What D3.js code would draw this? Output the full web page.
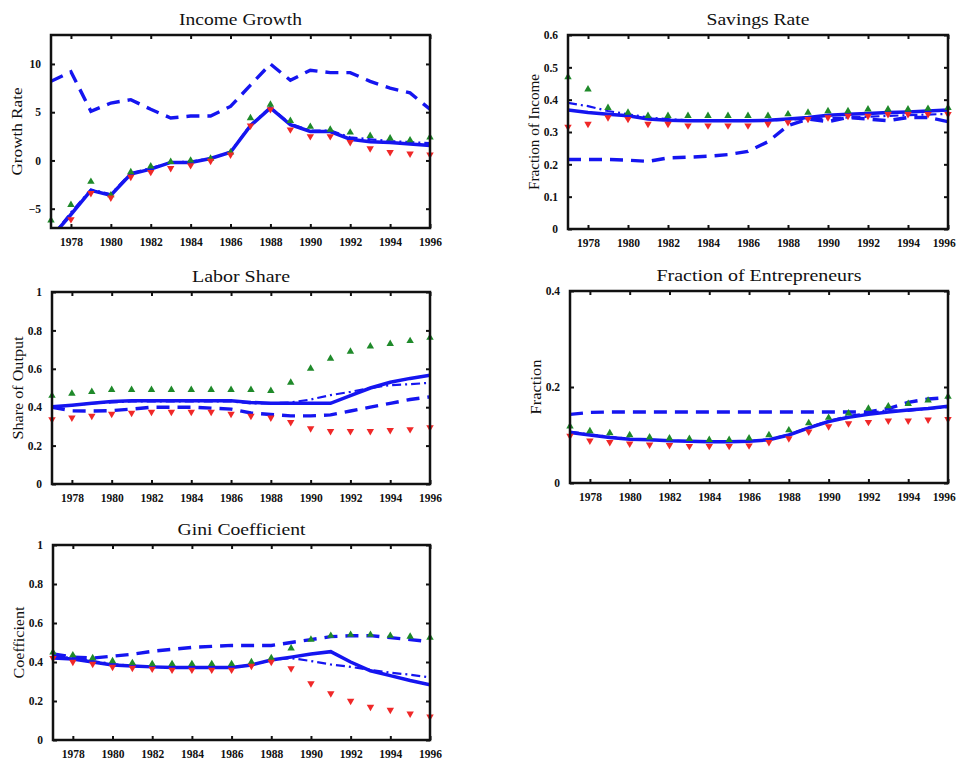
<!DOCTYPE html>
<html>
<head>
<meta charset="utf-8">
<script src="https://cdn.jsdelivr.net/npm/d3@7/dist/d3.min.js"></script>
<style>
  html, body { margin: 0; padding: 0; background: #fff; }
  svg { display: block; }
  text { font-family: "Liberation Serif", "DejaVu Serif", serif; fill: #111; }
</style>
</head>
<body>
<svg id="chart" width="957" height="761"></svg>
<script>
// Years on the horizontal axis
const years = [1977,1978,1979,1980,1981,1982,1983,1984,1985,1986,1987,1988,1989,1990,1991,1992,1993,1994,1995,1996];
const yearTicks = [1978,1980,1982,1984,1986,1988,1990,1992,1994,1996];

// Income growth (percent)
const incomeSolid   = [-8.0,-5.6,-3.1,-3.6,-1.4,-0.9,-0.2,-0.2,0.2,0.85,3.6,5.45,3.7,3.0,3.0,2.2,1.95,1.85,1.7,1.55];
const incomeDashDot = [-8.0,-5.4,-3.0,-3.5,-1.3,-0.8,-0.2,-0.1,0.2,0.9,3.7,5.5,3.8,3.1,3.1,2.4,2.2,2.0,1.9,1.8];
const incomeDashed  = [8.2,9.2,5.1,5.95,6.3,5.3,4.4,4.6,4.6,5.6,7.8,10.0,8.3,9.35,9.1,9.1,8.2,7.5,7.0,5.3];
const incomeGreen   = [-6.2,-4.6,-2.2,-3.6,-1.2,-0.6,-0.15,0.0,0.2,0.85,4.4,5.8,4.1,3.5,3.2,2.9,2.55,2.3,2.1,2.4];
const incomeRed     = [-7.6,-6.1,-3.4,-3.85,-1.7,-1.2,-0.8,-0.5,-0.05,0.6,3.6,5.3,3.2,2.5,2.5,1.9,1.25,0.85,0.7,0.6];
const incomeTicks   = [-5,0,5,10];

// Savings rate (fraction of income)
const savingsSolid   = [0.368,0.360,0.355,0.350,0.340,0.336,0.335,0.335,0.335,0.335,0.336,0.340,0.345,0.352,0.355,0.357,0.360,0.362,0.365,0.368];
const savingsDashDot = [0.390,0.380,0.365,0.355,0.345,0.340,0.336,0.335,0.335,0.336,0.336,0.338,0.340,0.342,0.345,0.347,0.350,0.352,0.354,0.356];
const savingsDashed  = [0.215,0.215,0.215,0.213,0.209,0.220,0.222,0.225,0.230,0.240,0.270,0.320,0.340,0.332,0.345,0.340,0.335,0.345,0.345,0.332];
const savingsGreen   = [0.470,0.432,0.375,0.360,0.350,0.350,0.350,0.350,0.350,0.350,0.350,0.355,0.360,0.365,0.365,0.370,0.370,0.370,0.372,0.375];
const savingsRed     = [0.316,0.325,0.345,0.340,0.325,0.325,0.320,0.320,0.320,0.320,0.325,0.330,0.340,0.345,0.350,0.350,0.355,0.355,0.355,0.355];
const savingsTicks   = [0,0.1,0.2,0.3,0.4,0.5,0.6];

// Labor share (share of output)
const laborSolid   = [0.402,0.410,0.420,0.430,0.433,0.433,0.433,0.433,0.433,0.433,0.425,0.420,0.420,0.420,0.420,0.460,0.500,0.530,0.550,0.566];
const laborDashDot = [0.400,0.410,0.420,0.425,0.430,0.430,0.430,0.430,0.430,0.430,0.420,0.420,0.425,0.440,0.463,0.480,0.500,0.515,0.520,0.527];
const laborDashed  = [0.400,0.381,0.380,0.382,0.390,0.400,0.400,0.400,0.395,0.390,0.370,0.362,0.355,0.355,0.360,0.380,0.400,0.420,0.440,0.454];
const laborGreen   = [0.460,0.471,0.480,0.490,0.490,0.490,0.490,0.490,0.490,0.490,0.490,0.485,0.528,0.601,0.653,0.690,0.717,0.730,0.745,0.762];
const laborRed     = [0.336,0.345,0.355,0.365,0.370,0.375,0.375,0.375,0.375,0.365,0.355,0.345,0.322,0.289,0.275,0.275,0.275,0.280,0.285,0.295];
const laborTicks   = [0,0.2,0.4,0.6,0.8,1];

// Fraction of entrepreneurs
const entrepSolid   = [0.105,0.100,0.095,0.091,0.090,0.088,0.087,0.086,0.086,0.087,0.090,0.100,0.115,0.128,0.137,0.143,0.148,0.152,0.155,0.160];
const entrepDashDot = [0.107,0.101,0.096,0.092,0.090,0.088,0.087,0.086,0.086,0.087,0.091,0.101,0.116,0.129,0.140,0.145,0.152,0.150,0.155,0.158];
const entrepDashed  = [0.143,0.147,0.148,0.148,0.148,0.148,0.148,0.148,0.148,0.148,0.148,0.148,0.148,0.148,0.148,0.148,0.155,0.168,0.175,0.178];
const entrepGreen   = [0.118,0.108,0.104,0.100,0.095,0.093,0.092,0.090,0.090,0.093,0.100,0.110,0.125,0.136,0.145,0.155,0.160,0.165,0.172,0.180];
const entrepRed     = [0.098,0.088,0.085,0.082,0.080,0.079,0.077,0.077,0.077,0.078,0.085,0.093,0.107,0.118,0.124,0.127,0.130,0.130,0.132,0.133];
const entrepTicks   = [0,0.2,0.4];

// Gini coefficient
const giniSolid   = [0.420,0.415,0.400,0.385,0.380,0.375,0.372,0.372,0.372,0.372,0.385,0.410,0.425,0.441,0.453,0.400,0.355,0.330,0.305,0.283];
const giniDashDot = [0.430,0.420,0.405,0.390,0.380,0.375,0.372,0.372,0.372,0.372,0.385,0.410,0.420,0.405,0.387,0.375,0.360,0.345,0.335,0.321];
const giniDashed  = [0.441,0.425,0.420,0.430,0.440,0.455,0.465,0.475,0.480,0.485,0.485,0.485,0.500,0.515,0.530,0.535,0.535,0.525,0.515,0.504];
const giniGreen   = [0.450,0.435,0.420,0.405,0.395,0.390,0.390,0.390,0.390,0.390,0.400,0.420,0.470,0.515,0.535,0.540,0.540,0.535,0.530,0.525];
const giniRed     = [0.420,0.400,0.390,0.375,0.370,0.365,0.360,0.360,0.360,0.360,0.380,0.400,0.367,0.290,0.239,0.200,0.170,0.154,0.135,0.120];
const giniTicks   = [0,0.2,0.4,0.6,0.8,1];

const BLUE = "#1515f0", GREEN = "#1f8a2a", RED = "#f02828";

const oneDec = d => (d === 0 || d === 1) ? String(d) : d3.format(".1f")(d);

const panels = [
  { title: "Income Growth", titleLen: 123, ylabel: "Growth Rate", ylabelLen: 88, box: [51, 35, 430, 228], domain: [-7, 13], ticks: incomeTicks, fmt: d3.format("d"),
    solid: incomeSolid, dashdot: incomeDashDot, dashed: incomeDashed, green: incomeGreen, red: incomeRed },
  { title: "Savings Rate", titleLen: 103, ylabel: "Fraction of Income", ylabelLen: 116, box: [568, 35, 948, 229], domain: [0, 0.6], ticks: savingsTicks, fmt: oneDec,
    solid: savingsSolid, dashdot: savingsDashDot, dashed: savingsDashed, green: savingsGreen, red: savingsRed },
  { title: "Labor Share", titleLen: 98, ylabel: "Share of Output", ylabelLen: 103, box: [52, 292, 430, 484], domain: [0, 1], ticks: laborTicks, fmt: oneDec,
    solid: laborSolid, dashdot: laborDashDot, dashed: laborDashed, green: laborGreen, red: laborRed },
  { title: "Fraction of Entrepreneurs", titleLen: 205, ylabel: "Fraction", ylabelLen: 55, box: [570, 291, 948, 483], domain: [0, 0.4], ticks: entrepTicks, fmt: oneDec,
    solid: entrepSolid, dashdot: entrepDashDot, dashed: entrepDashed, green: entrepGreen, red: entrepRed },
  { title: "Gini Coefficient", titleLen: 128, ylabel: "Coefficient", ylabelLen: 72, box: [53, 545, 430, 740], domain: [0, 1], ticks: giniTicks, fmt: oneDec,
    solid: giniSolid, dashdot: giniDashDot, dashed: giniDashed, green: giniGreen, red: giniRed }
];

const svg = d3.select("#chart");
const defs = svg.append("defs");
const W = +svg.attr("width");

panels.forEach((p, i) => {
  const [x0, y0, x1, y1] = p.box;
  const x = d3.scaleLinear().domain([1977, 1996]).range([x0, x1]);
  const y = d3.scaleLinear().domain(p.domain).range([y1, y0]);
  const g = svg.append("g");

  const clipId = "clip" + i;
  defs.append("clipPath").attr("id", clipId)
    .append("rect").attr("x", x0).attr("y", y0).attr("width", x1 - x0).attr("height", y1 - y0);

  // title
  g.append("text").attr("x", (x0 + x1) / 2).attr("y", y0 - 10)
    .attr("text-anchor", "middle").style("font-size", "17px")
    .attr("textLength", p.titleLen).attr("lengthAdjust", "spacingAndGlyphs")
    .text(p.title);

  // y axis label
  g.append("text")
    .attr("transform", `translate(${x0 - 29},${(y0 + y1) / 2}) rotate(-90)`)
    .attr("text-anchor", "middle").style("font-size", "14px")
    .attr("textLength", p.ylabelLen).attr("lengthAdjust", "spacingAndGlyphs")
    .text(p.ylabel);

  // axes with inward ticks on all four sides
  const bottom = d3.axisBottom(x).tickValues(yearTicks).tickSizeInner(-4).tickSizeOuter(0).tickPadding(10).tickFormat(d3.format("d"));
  const top = d3.axisTop(x).tickValues(yearTicks).tickSizeInner(-4).tickSizeOuter(0).tickFormat("");
  const left = d3.axisLeft(y).tickValues(p.ticks).tickSizeInner(-4).tickSizeOuter(0).tickPadding(10).tickFormat(p.fmt);
  const right = d3.axisRight(y).tickValues(p.ticks).tickSizeInner(-4).tickSizeOuter(0).tickFormat("");

  const styleAxis = sel => {
    sel.select(".domain").remove();
    sel.selectAll(".tick line").attr("stroke", "#111").attr("stroke-width", 2);
    sel.selectAll(".tick text").style("font-family", "'Liberation Serif', serif")
      .style("font-size", "11.5px").style("font-weight", "bold").attr("fill", "#111");
  };
  const xb = g.append("g").attr("transform", `translate(0,${y1})`).call(bottom).call(styleAxis);
  // keep the last year label inside the page edge
  xb.selectAll(".tick text").each(function () {
    const bb = this.getBBox();
    const tx = +d3.select(this.parentNode).attr("transform").match(/translate\(([-\d.]+)/)[1];
    const over = tx + bb.x + bb.width - (W - 1);
    if (over > 0) d3.select(this).attr("x", -over);
  });
  g.append("g").attr("transform", `translate(0,${y0})`).call(top).call(styleAxis);
  g.append("g").attr("transform", `translate(${x0},0)`).call(left).call(styleAxis);
  g.append("g").attr("transform", `translate(${x1},0)`).call(right).call(styleAxis);

  const plot = g.append("g").attr("clip-path", `url(#${clipId})`);
  const line = d3.line().x((d, j) => x(years[j])).y(d => y(d));

  plot.append("path").datum(p.dashed).attr("d", line).attr("fill", "none")
    .attr("stroke", BLUE).attr("stroke-width", 3.4).attr("stroke-dasharray", "13,8");
  plot.append("path").datum(p.dashdot).attr("d", line).attr("fill", "none")
    .attr("stroke", BLUE).attr("stroke-width", 2.2).attr("stroke-dasharray", "9,4,2,4");
  plot.append("path").datum(p.solid).attr("d", line).attr("fill", "none")
    .attr("stroke", BLUE).attr("stroke-width", 3.5);

  // simulated-path markers
  const inside = v => v >= p.domain[0] && v <= p.domain[1];
  const tri = d3.symbol().type(d3.symbolTriangle).size(24);
  g.append("g").selectAll("path").data(p.green.map((v, j) => [years[j], v]).filter(d => inside(d[1])))
    .join("path").attr("d", tri)
    .attr("transform", d => `translate(${x(d[0])},${y(d[1])})`).attr("fill", GREEN);
  g.append("g").selectAll("path").data(p.red.map((v, j) => [years[j], v]).filter(d => inside(d[1])))
    .join("path").attr("d", tri)
    .attr("transform", d => `translate(${x(d[0])},${y(d[1])}) rotate(180)`).attr("fill", RED);

  // frame
  g.append("rect").attr("x", x0).attr("y", y0).attr("width", x1 - x0).attr("height", y1 - y0)
    .attr("fill", "none").attr("stroke", "#111").attr("stroke-width", 2.5);
});
</script>
</body>
</html>
